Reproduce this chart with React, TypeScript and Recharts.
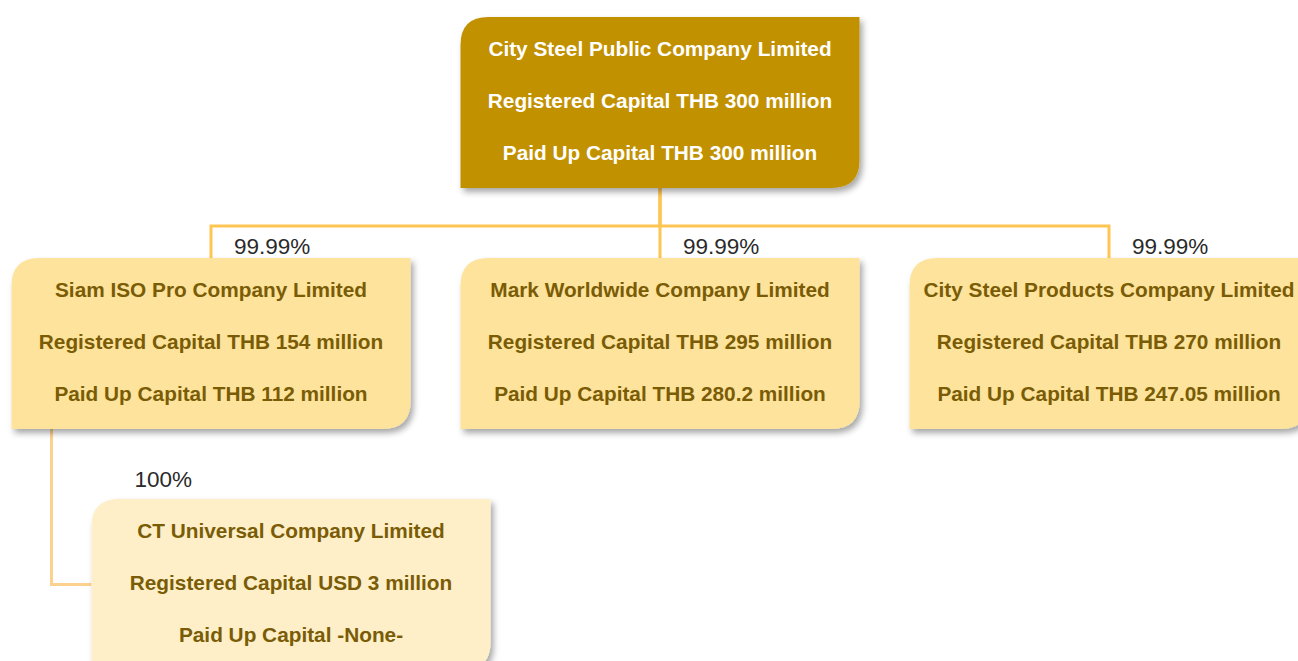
import React from 'react';
import { ScatterChart, Scatter, XAxis, YAxis } from 'recharts';

// ownership tree
const companies = [
  'City Steel Public Company Limited',
  'Siam ISO Pro Company Limited',
  'Mark Worldwide Company Limited',
  'City Steel Products Company Limited',
  'CT Universal Company Limited',
];
const registeredCurrency = ['THB', 'THB', 'THB', 'THB', 'USD'];
const registeredCapital = [300, 154, 295, 270, 3];
const paidUpCapital: (number | null)[] = [300, 112, 280.2, 247.05, null];
const parents = [-1, 0, 0, 0, 1];
const holdings: (number | null)[] = [null, 99.99, 99.99, 99.99, 100];

// layout (pixels)
const W = 1298;
const H = 661;
const COL_PX = 449;
const LEVEL_PX = 241;
const FIRST_CX = 211;
const FIRST_TOP = 17;
const BOX_W = 399;
const BOX_H = 171;
const BUS_PX = 209; // bus line below root top
const NEST_SHIFT = 80;
const STUB_IN = 40;

const fills = ['#C29104', '#FDE39B', '#FEEFC8'];
const textColors = ['#FFFFFF', '#7A5C06', '#7A5C06'];
const LINE = '#FFC552';
const NEST_LINE = '#FCD18E';

const levelOf = (i: number): number => (parents[i] < 0 ? 0 : levelOf(parents[i]) + 1);

const colOf = (i: number): number => {
  const p = parents[i];
  if (p < 0) {
    const kids = parents.map((q, j) => (q === i ? j : -1)).filter((j) => j >= 0);
    return (kids.length - 1) / 2;
  }
  if (p === 0) return parents.slice(0, i).filter((q) => q === 0).length;
  return colOf(p) + NEST_SHIFT / COL_PX;
};

const nodes = companies.map((name, i) => ({
  name,
  level: levelOf(i),
  col: colOf(i),
  lines: [
    name,
    `Registered Capital ${registeredCurrency[i]} ${registeredCapital[i]} million`,
    paidUpCapital[i] == null ? 'Paid Up Capital -None-' : `Paid Up Capital ${registeredCurrency[i]} ${paidUpCapital[i]} million`,
  ],
  holding: holdings[i],
  nested: levelOf(i) > 1,
}));

const boxHU = BOX_H / LEVEL_PX;
const busU = BUS_PX / LEVEL_PX;
const halfWU = BOX_W / 2 / COL_PX;

const connectors = nodes
  .map((n, i) => {
    const p = parents[i];
    if (p < 0) return null;
    const pn = nodes[p];
    if (!n.nested) {
      return {
        color: LINE,
        pts: [
          { col: pn.col, level: pn.level + boxHU },
          { col: pn.col, level: pn.level + busU },
          { col: n.col, level: pn.level + busU },
          { col: n.col, level: n.level },
        ],
      };
    }
    const x = pn.col - halfWU + STUB_IN / COL_PX;
    return {
      color: NEST_LINE,
      pts: [
        { col: x, level: pn.level + boxHU },
        { col: x, level: n.level + boxHU / 2 },
        { col: n.col - halfWU, level: n.level + boxHU / 2 },
      ],
    };
  })
  .filter(Boolean) as { color: string; pts: { col: number; level: number }[] }[];

const boxPath = (x: number, y: number, w: number, h: number, r: number) =>
  `M${x + r},${y} H${x + w} V${y + h - r} Q${x + w},${y + h} ${x + w - r},${y + h} H${x} V${y + r} Q${x},${y} ${x + r},${y} Z`;

const NodeBox = (props: any) => {
  const { cx, cy, payload } = props;
  const left = cx - BOX_W / 2;
  const top = cy;
  const lvl = payload.level;
  return (
    <g>
      <path d={boxPath(left, top, BOX_W, BOX_H, 28)} fill={fills[lvl]} filter="url(#shadow)" />
      {payload.lines.map((t: string, k: number) => (
        <text
          key={k}
          x={cx}
          y={top + 31 + k * 52}
          textAnchor="middle"
          dominantBaseline="central"
          fontFamily="'Liberation Sans', Arial, sans-serif"
          fontWeight="bold"
          fontSize={20.8}
          fill={textColors[lvl]}
        >
          {t}
        </text>
      ))}
      {payload.holding != null && (
        <text
          x={payload.nested ? left + 43 : cx + 23}
          y={payload.nested ? top - 20 : top - 12}
          dominantBaseline="central"
          fontFamily="'Liberation Sans', Arial, sans-serif"
          fontSize={22.5}
          fill="#2a2a2a"
        >
          {`${payload.holding}%`}
        </text>
      )}
    </g>
  );
};

const xMin = -FIRST_CX / COL_PX;
const yMin = -FIRST_TOP / LEVEL_PX;

export default function App() {
  return (
    <div style={{ position: 'absolute', left: 0, top: 0, width: W, height: H, background: '#fff', overflow: 'hidden' }}>
      <ScatterChart width={W} height={H} margin={{ top: 0, right: 0, bottom: 0, left: 0 }}>
        <defs>
          <filter id="shadow" x="-10%" y="-10%" width="130%" height="140%">
            <feDropShadow dx="3" dy="4" stdDeviation="3" floodColor="#000" floodOpacity="0.35" />
          </filter>
        </defs>
        <XAxis type="number" dataKey="col" hide allowDataOverflow domain={[xMin, xMin + W / COL_PX]} />
        <YAxis type="number" dataKey="level" hide reversed allowDataOverflow domain={[yMin, yMin + H / LEVEL_PX]} />
        {connectors.map((c, i) => (
          <Scatter
            key={`c-${i}`}
            data={c.pts}
            line={{ stroke: c.color, strokeWidth: 3 }}
            shape={() => <g />}
            isAnimationActive={false}
          />
        ))}
        <Scatter data={nodes} shape={NodeBox} isAnimationActive={false} />
      </ScatterChart>
    </div>
  );
}
